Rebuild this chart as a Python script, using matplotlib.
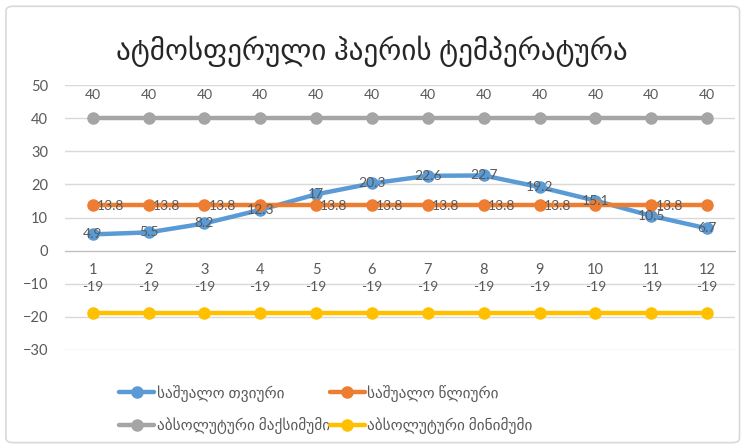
import matplotlib
matplotlib.use("Agg")
import matplotlib.pyplot as plt
from matplotlib.patches import FancyBboxPatch

plt.rcParams['font.family'] = ['Lato', 'DejaVu Sans']

months = ["1", "2", "3", "4", "5", "6", "7", "8", "9", "10", "11", "12"]
monthly_avg = [4.9, 5.5, 8.2, 12.3, 17, 20.3, 22.6, 22.7, 19.2, 15.1, 10.5, 6.7]
annual_avg = [13.8] * 12
abs_max = [40] * 12
abs_min = [-19] * 12
# months whose annual-average label is shown (others collide with the monthly line)
annual_label_shown = [1, 1, 1, 0, 1, 1, 1, 1, 1, 0, 1, 0]

title = "ატმოსფერული ჰაერის ტემპერატურა"
names = ["საშუალო თვიური", "საშუალო წლიური",
         "აბსოლუტური მაქსიმუმი", "აბსოლუტური მინიმუმი"]
colors = ["#5B9BD5", "#ED7D31", "#A5A5A5", "#FFC000"]
text_color = "#595959"

fig = plt.figure(figsize=(7.44, 4.48), dpi=100)
fig.patches.append(FancyBboxPatch((0.008, 0.012), 0.986, 0.974,
                                  boxstyle="round,pad=0,rounding_size=0.01",
                                  transform=fig.transFigure, fc="white",
                                  ec="#D9D9D9", lw=1.2, zorder=-1))

ax = fig.add_axes([0.087, 0.219, 0.901, 0.591])
x = list(range(len(months)))

series = [monthly_avg, annual_avg, abs_max, abs_min]
lines = []
for k, (vals, name, c) in enumerate(zip(series, names, colors)):
    ln, = ax.plot(x, vals, color=c, lw=3.2, marker="o", ms=8,
                  solid_capstyle="round", label=name, zorder=3 + k * 0.1)
    lines.append(ln)

lab = dict(fontsize=10, color=text_color, zorder=5)
for i in x:
    ax.annotate(f"{monthly_avg[i]:g}", (i, monthly_avg[i]), ha="center",
                va="center", **lab)
    if annual_label_shown[i]:
        ax.annotate(f"{annual_avg[i]:g}", (i, annual_avg[i]), xytext=(3, -1),
                    textcoords="offset points", ha="left", va="center", **lab)
    ax.annotate(f"{abs_max[i]:g}", (i, abs_max[i]), xytext=(0, 17),
                textcoords="offset points", ha="center", va="center", **lab)
    ax.annotate(f"{abs_min[i]:g}", (i, abs_min[i]), xytext=(0, 19),
                textcoords="offset points", ha="center", va="center", **lab)

ax.set_xlim(-0.5, len(months) - 0.5)
ax.set_ylim(-30, 50)
ax.set_yticks(range(-30, 51, 10))
ax.set_xticks(x)
ax.set_xticklabels(months)
ax.grid(axis="y", color="#D9D9D9", lw=1)
ax.set_axisbelow(True)
for s in ["top", "right", "left"]:
    ax.spines[s].set_visible(False)
ax.spines["bottom"].set_position(("data", 0))
ax.spines["bottom"].set_color("#BFBFBF")
ax.tick_params(axis="both", length=0, labelsize=10.5, labelcolor=text_color)
ax.tick_params(axis="x", pad=9)
ax.tick_params(axis="y", pad=12)

fig.text(0.5, 0.885, title, ha="center", va="center", fontsize=21,
         color="#262626")

# column-first fill: rows read blue/orange, then gray/yellow
order = [0, 2, 1, 3]
fig.legend(handles=[lines[i] for i in order], loc="upper left",
           bbox_to_anchor=(0.152, 0.155), ncol=2, frameon=False, fontsize=11,
           labelcolor=text_color, handlelength=2.3, handletextpad=0.15,
           columnspacing=0.0, labelspacing=1.0, borderaxespad=0)

fig.savefig("out.png", dpi=100)
